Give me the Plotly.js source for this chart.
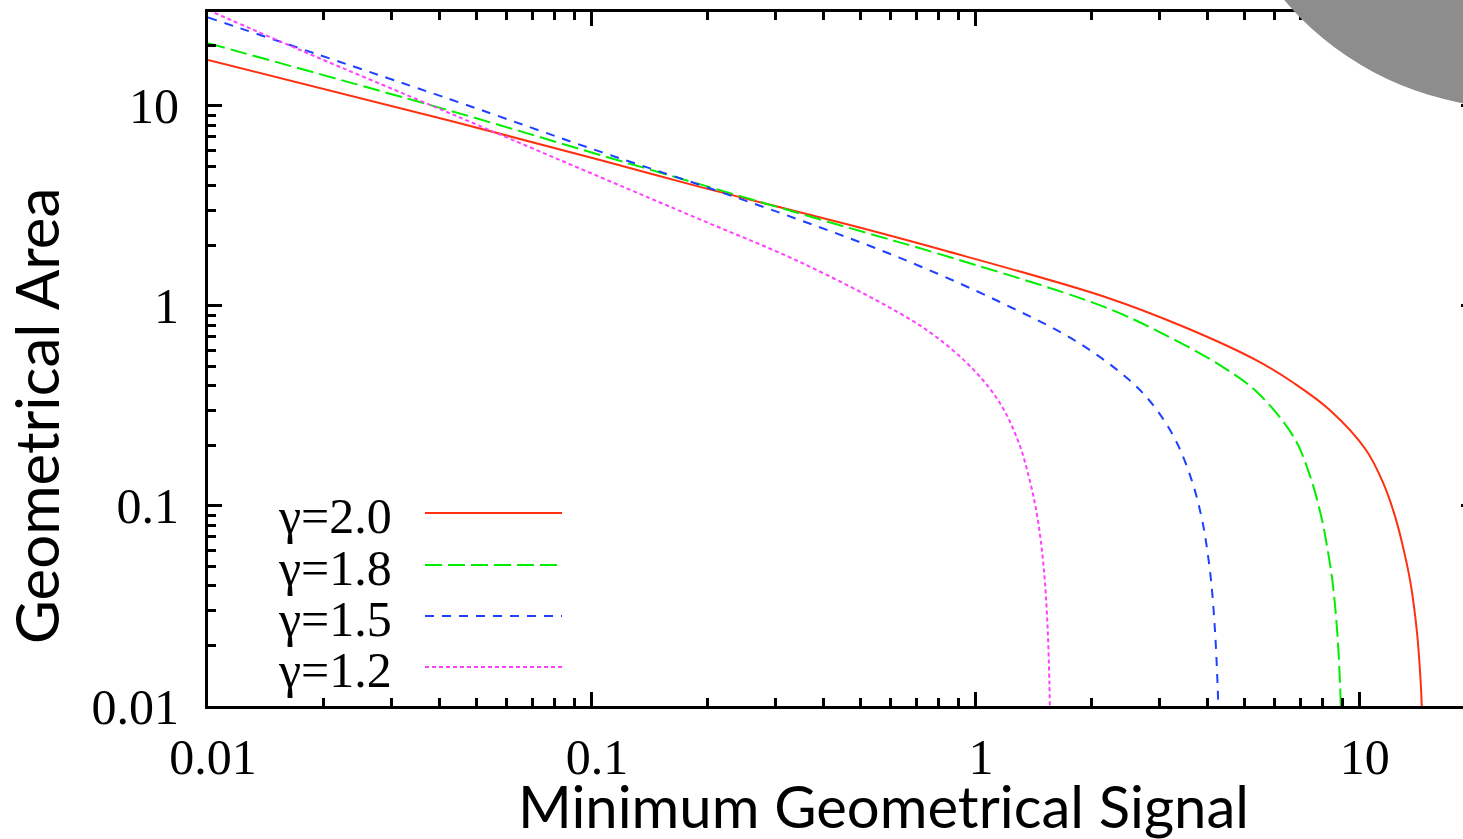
<!DOCTYPE html>
<html><head><meta charset="utf-8">
<script src="https://cdn.plot.ly/plotly-3.0.1.min.js"></script>
<style>html,body{margin:0;padding:0;overflow:hidden;background:#fff;} #chart{width:1490px;height:839px;}</style>
</head><body><div id="chart"></div>
<script>
// ---- data ----
const seriesNames = ['γ=2.0', 'γ=1.8', 'γ=1.5', 'γ=1.2'];

const x_g20 = [0.01, 0.0427, 0.105, 0.191, 0.47, 0.82, 2.2, 3.54, 5.43, 6.73, 8.35, 10.37, 11.51, 12.37, 13.02, 13.56, 14.10, 14.41, 14.50];
const y_g20 = [17.0, 8.44, 5.37, 3.94, 2.54, 1.905, 1.10, 0.776, 0.530, 0.412, 0.302, 0.191, 0.130, 0.088, 0.060, 0.041, 0.023, 0.013, 0.01];

const x_g18 = [0.01, 0.0427, 0.105, 0.47, 0.787, 2.10, 3.01, 4.40, 5.43, 6.73, 7.43, 7.94, 8.25, 8.50, 8.74, 8.88, 8.92];
const y_g18 = [20.6, 9.47, 5.69, 2.45, 1.84, 1.01, 0.741, 0.495, 0.367, 0.221, 0.140, 0.088, 0.060, 0.041, 0.023, 0.013, 0.01];

const x_g15 = [0.01, 0.0427, 0.105, 0.191, 0.348, 0.634, 1.155, 1.855, 2.56, 2.96, 3.34, 3.67, 3.87, 3.98, 4.105, 4.20, 4.26, 4.28];
const y_g15 = [27.7, 10.8, 5.91, 4.03, 2.69, 1.74, 1.047, 0.653, 0.412, 0.302, 0.2065, 0.130, 0.088, 0.0653, 0.041, 0.023, 0.013, 0.01];

const x_g12 = [0.01, 0.01737, 0.0427, 0.105, 0.191, 0.348, 0.634, 0.787, 0.976, 1.155, 1.294, 1.387, 1.446, 1.486, 1.514, 1.540, 1.554, 1.558];
const y_g12 = [30.2, 19.05, 9.19, 4.41, 2.71, 1.66, 0.919, 0.702, 0.490, 0.327, 0.2065, 0.130, 0.088, 0.060, 0.041, 0.023, 0.013, 0.01];

const xTickVals = [0.01, 0.1, 1, 10];
const xTickText = ['0.01', '0.1', '1', '10'];
const yTickVals = [0.01, 0.1, 1, 10];
const yTickText = ['0.01', '0.1', '1', '10'];
const xTitle = 'Minimum Geometrical Signal';
const yTitle = 'Geometrical Area';

// ---- styles ----
const colors = ['#ff3010', '#00ee00', '#1e40ff', '#ff40ff'];
const dashes = ['solid', '17px,6px', '9px,8px', '4px,3px'];
const xs = [x_g20, x_g18, x_g15, x_g12];
const ys = [y_g20, y_g18, y_g15, y_g12];

const traces = seriesNames.map((n, i) => ({
  type: 'scatter', mode: 'lines', name: n, x: xs[i], y: ys[i],
  line: {color: colors[i], width: 2, dash: dashes[i], shape: 'spline', smoothing: 1.0},
  showlegend: false, hoverinfo: 'skip'
}));

// plot area in pixels
const L = 208, R = 1475, T = 12, B = 706, W = 1490, H = 839;
const px = v => (v - L) / (R - L);
const py = v => (B - v) / (B - T);

function minorVals() {
  const out = [];
  [0.01, 0.1, 1, 10].forEach(d => { for (let k = 2; k <= 9; k++) out.push(+(d * k).toPrecision(3)); });
  return out;
}
const minorTicks = minorVals();

const serif = 'Liberation Serif, Times New Roman, serif';
const sans = 'Lato, Open Sans, sans-serif';

const axisCommon = {
  type: 'log', showgrid: false, zeroline: false,
  showline: true, linecolor: 'black', linewidth: 3, mirror: 'ticks',
  ticks: 'inside', ticklen: 14, tickwidth: 3, tickcolor: 'black',
  tickmode: 'array',
  tickfont: {family: serif, size: 50, color: 'black'},
  minor: {tickmode: 'array', tickvals: minorTicks, ticks: 'inside', ticklen: 8, tickwidth: 3, tickcolor: 'black', showgrid: false}
};

const legendRowsY = [513, 565, 616, 667];
const annotations = seriesNames.map((n, i) => ({
  xref: 'paper', yref: 'paper', x: px(394), y: py(legendRowsY[i] + 3), xanchor: 'right', yanchor: 'middle',
  text: n, showarrow: false, font: {family: serif, size: 50, color: 'black'}
}));
annotations.push({xref: 'paper', yref: 'paper', x: px(883), y: py(805), xanchor: 'center', yanchor: 'middle',
  text: xTitle, showarrow: false, font: {family: sans, size: 58, color: 'black'}});
annotations.push({xref: 'paper', yref: 'paper', x: px(36), y: py(416), xanchor: 'center', yanchor: 'middle',
  text: yTitle, textangle: -90, showarrow: false, font: {family: sans, size: 60, color: 'black'}});

const shapes = seriesNames.map((n, i) => ({
  type: 'line', xref: 'paper', yref: 'paper', x0: px(425), x1: px(562), y0: py(legendRowsY[i]), y1: py(legendRowsY[i]),
  line: {color: colors[i], width: 2, dash: dashes[i]}
}));
// grey disc overlapping the top-right corner
shapes.push({type: 'circle', xref: 'paper', yref: 'paper', layer: 'above',
  x0: px(1212), x1: px(1822), y0: py(108), y1: py(-502),
  fillcolor: '#8d8d8d', line: {width: 0}});

const layout = {
  width: W, height: H,
  margin: {l: L, r: W - R, t: T, b: H - B},
  paper_bgcolor: 'white', plot_bgcolor: 'white',
  xaxis: Object.assign({}, axisCommon, {range: [-2, 1.30], tickvals: xTickVals, ticktext: xTickText, ticklabelstandoff: 5, ticklabelshift: 5}),
  yaxis: Object.assign({}, axisCommon, {range: [-2, Math.log10(29.5)], tickvals: yTickVals, ticktext: yTickText, ticklabelstandoff: 16}),
  annotations: annotations,
  shapes: shapes,
  showlegend: false
};

Plotly.newPlot('chart', traces, layout, {displayModeBar: false, staticPlot: true});
</script></body></html>
